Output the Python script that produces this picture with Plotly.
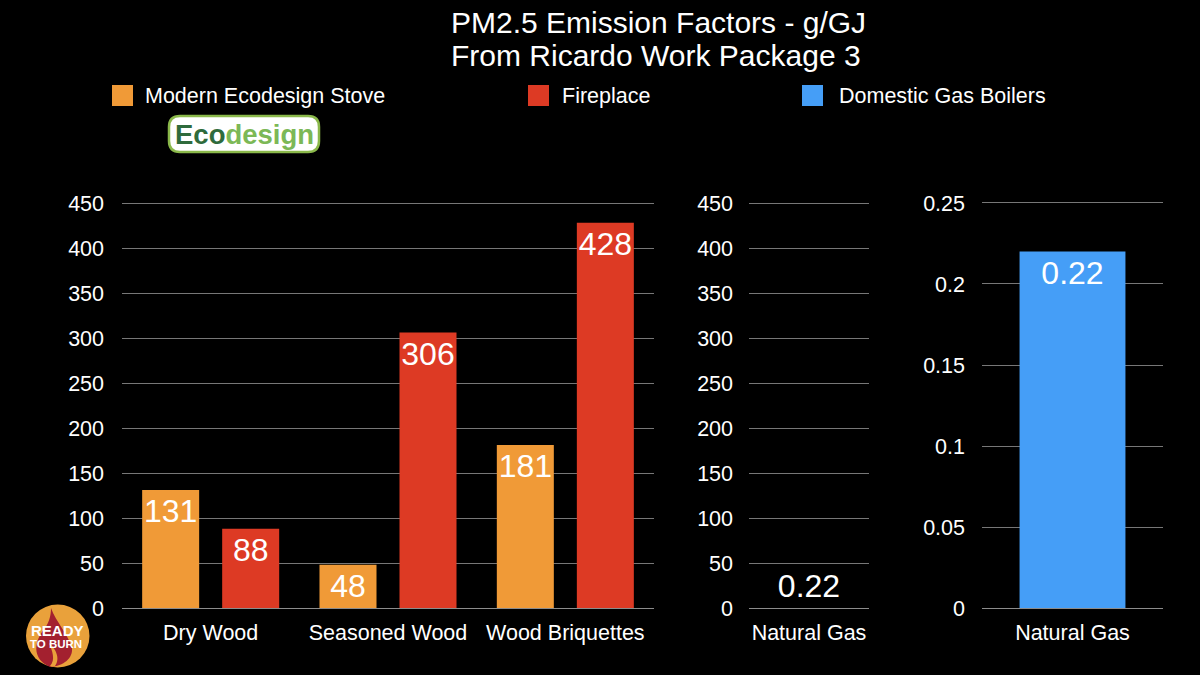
import plotly.graph_objects as go
from plotly.subplots import make_subplots

# values
wood_categories = ["Dry Wood", "Seasoned Wood", "Wood Briquettes"]
stove_values = [131, 48, 181]
fireplace_values = [88, 306, 428]
gas_categories = ["Natural Gas"]
gas_values = [0.22]

wood_ticks = [0, 50, 100, 150, 200, 250, 300, 350, 400, 450]
gas_ticks = [0, 0.05, 0.1, 0.15, 0.2, 0.25]
gas_tick_labels = ["0", "0.05", "0.1", "0.15", "0.2", "0.25"]

ORANGE = "#f09a37"
RED = "#dd3a24"
BLUE = "#459ef7"
FONT = "Liberation Sans"
W = 1200
H = 675


def px_x(x):
    return x / W


def px_y(y):
    return 1 - y / H


def add_text(fig, text, x, y, size, color="white", xanchor="center"):
    fig.add_annotation(text=text, xref="paper", yref="paper", x=px_x(x), y=px_y(y),
                       xanchor=xanchor, yanchor="middle", showarrow=False,
                       font=dict(color=color, size=size, family=FONT))


def rounded_box(x0, y0, x1, y1, r):
    pts = [("M", x0 + r, y0), ("L", x1 - r, y0), ("Q", x1, y0, x1, y0 + r), ("L", x1, y1 - r),
           ("Q", x1, y1, x1 - r, y1), ("L", x0 + r, y1), ("Q", x0, y1, x0, y1 - r),
           ("L", x0, y0 + r), ("Q", x0, y0, x0 + r, y0)]
    path = ""
    for p in pts:
        coords = p[1:]
        path += p[0]
        for i in range(0, len(coords), 2):
            path += f" {px_x(coords[i])} {px_y(coords[i + 1])} "
    return path + "Z"


def curve_path(start, curves):
    path = f"M {px_x(start[0])} {px_y(start[1])} "
    for c in curves:
        path += "C " + " ".join(f"{px_x(c[i])} {px_y(c[i + 1])}" for i in range(0, 6, 2)) + " "
    return path + "Z"


fig = make_subplots(rows=1, cols=3)

label_font = dict(color="white", size=32, family=FONT)
fig.add_trace(go.Bar(x=wood_categories, y=stove_values, marker_color=ORANGE,
                     text=stove_values), row=1, col=1)
fig.add_trace(go.Bar(x=wood_categories, y=fireplace_values, marker_color=RED,
                     text=fireplace_values), row=1, col=1)
fig.update_traces(textposition="inside", insidetextanchor="end",
                  textangle=0, constraintext="none", textfont=label_font)

# on the 450 scale this bar is too short to see, only its label shows
fig.add_trace(go.Bar(x=gas_categories, y=gas_values, marker_color=BLUE, marker_opacity=0, width=0.58,
                     text=["0.22"], textposition="outside", cliponaxis=False,
                     textfont=label_font), row=1, col=2)
fig.add_trace(go.Bar(x=gas_categories, y=gas_values, marker_color=BLUE, width=0.585,
                     text=["0.22"], textposition="inside", insidetextanchor="end",
                     textangle=0, textfont=label_font), row=1, col=3)
fig.update_traces(marker_line_width=0)

axis_style = dict(showline=False, ticks="", automargin=False,
                  tickfont=dict(color="white", size=21.5, family=FONT))
fig.update_xaxes(**axis_style, showgrid=False, zeroline=False, ticklabelstandoff=9)
fig.update_yaxes(**axis_style, showgrid=True, gridcolor="#777777", gridwidth=1,
                 zeroline=True, zerolinecolor="#8c8c8c", zerolinewidth=1,
                 ticklabelstandoff=17)

fig.update_xaxes(domain=[px_x(122), px_x(654)], row=1, col=1)
fig.update_xaxes(domain=[px_x(749), px_x(869)], row=1, col=2)
fig.update_xaxes(domain=[px_x(982), px_x(1163)], row=1, col=3)
# a little headroom above the top tick, plotly drops a gridline sitting on the range end
fig.update_yaxes(domain=[px_y(608), px_y(201)])
fig.update_yaxes(range=[0, 452.22], tickvals=wood_ticks, row=1, col=1)
fig.update_yaxes(range=[0, 452.22], tickvals=wood_ticks, ticklabelstandoff=15, row=1, col=2)
fig.update_yaxes(range=[0, 0.25123], tickvals=gas_ticks, ticktext=gas_tick_labels,
                 ticklabelstandoff=16, row=1, col=3)

# legend is spaced unevenly in the original so it is drawn by hand
legend_items = [("Modern Ecodesign Stove", ORANGE, 112, 143),
                ("Fireplace", RED, 528, 560),
                ("Domestic Gas Boilers", BLUE, 802, 837)]
for name, color, x0, text_x in legend_items:
    fig.add_shape(type="rect", xref="paper", yref="paper", x0=px_x(x0), x1=px_x(x0 + 21),
                  y0=px_y(106), y1=px_y(85), fillcolor=color, line_width=0)
    add_text(fig, name, text_x, 96, 21.5, xanchor="left")

# Ecodesign badge
fig.add_shape(type="path", xref="paper", yref="paper", path=rounded_box(169, 116, 319, 152, 11),
              fillcolor="white", line=dict(color="#8ab84a", width=2.5))
add_text(fig, '<b><span style="color:#2f6b3c">Eco</span>'
              '<span style="color:#7cb856">design</span></b>', 244, 134, 27.5)

# Ready To Burn badge
fig.add_shape(type="circle", xref="paper", yref="paper", x0=px_x(26), x1=px_x(89.5),
              y0=px_y(667.5), y1=px_y(604.5), fillcolor="#e9a13b", line_width=0)
flame = curve_path((50, 667), [(34, 660, 33, 645, 42, 632), (49, 624, 51, 616, 51, 608),
                               (56, 622, 68, 634, 72, 648), (73, 658, 64, 666, 50, 667)])
streak = curve_path((50, 666), [(56, 660, 52, 650, 49, 643), (55, 648, 61, 658, 55, 666),
                                (53, 667, 51, 667, 50, 666)])
fig.add_shape(type="path", xref="paper", yref="paper", path=flame, fillcolor="#a3202f", line_width=0)
fig.add_shape(type="path", xref="paper", yref="paper", path=streak, fillcolor="#e9a13b", line_width=0)
add_text(fig, "<b>READY</b>", 57, 630, 15)
add_text(fig, "<b>TO BURN</b>", 56, 644, 11.5)

# title lines sit closer together than plotly's line spacing
add_text(fig, "PM2.5 Emission Factors - g/GJ", 449, 22, 30, xanchor="left")
add_text(fig, "From Ricardo Work Package 3", 449, 55, 30, xanchor="left")

fig.update_layout(
    width=W, height=H, margin=dict(l=0, r=0, t=0, b=0),
    paper_bgcolor="black", plot_bgcolor="black", showlegend=False,
    barmode="group", bargap=0.0976, bargroupgap=0.2875,
)

fig.write_html("out.html", config={"displayModeBar": False},
               post_script="document.body.style.margin = '0';")
